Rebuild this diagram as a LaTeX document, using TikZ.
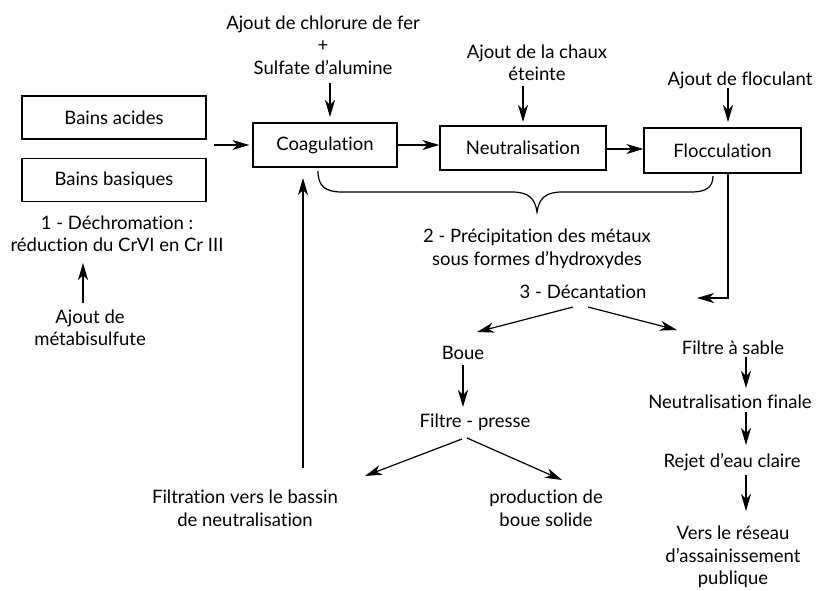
\documentclass[tikz,border=0pt]{standalone}
\usepackage{fontspec}
\setmainfont{Lato}[Ligatures=NoCommon]
\usetikzlibrary{arrows.meta}

\tikzset{
	etape/.style={draw, line width=1.2pt, minimum width=184pt, minimum height=43pt, inner sep=0pt},
	texte/.style={align=center, inner sep=0pt, font=\fontsize{18.5}{22.5}\selectfont},
	flux/.style={-{Stealth[length=17pt,width=10pt,inset=5pt]}, line width=1.2pt},
}

\begin{document}
\begin{tikzpicture}[x=1pt, y=-1pt, font=\fontsize{18.5}{22.5}\selectfont]
	\useasboundingbox (0,0) rectangle (816,590);

	% bacs et traitement
	\node [etape] (acides) at (114,117.5) {Bains acides};
	\node [etape] (basiques) at (114,180) {Bains basiques};
	\node [etape, minimum width=144pt, minimum height=44pt] (coag) at (325,145) {Coagulation};
	\node [etape, minimum width=166pt, minimum height=44pt] (neutre) at (523,148) {Neutralisation};
	\node [etape, minimum width=157pt, minimum height=45pt] (floc) at (722.5,150.5) {Flocculation};
	\coordinate (bains) at (214,145);

	% ajouts
	\node [texte] (chlorure) at (323,45) {Ajout de chlorure de fer\\+\\Sulfate d’alumine};
	\node [texte] (chaux) at (537,63) {Ajout de la chaux\\éteinte};
	\node [texte] (floculant) at (740,80) {Ajout de floculant};
	\node [texte] (dechrom) at (117,234) {1 - Déchromation :\\réduction du CrVI en Cr III};
	\node [texte] (metabi) at (90,328) {Ajout de\\métabisulfute};
	\node [texte] (precip) at (537,249) {2 - Précipitation des métaux\\sous formes d’hydroxydes};

	% boues et eau
	\node [texte] (decant) at (583,292) {3 - Décantation};
	\node [texte] (boue) at (463,353) {Boue};
	\node [texte] (presse) at (475,422) {Filtre - presse};
	\node [texte] (filtration) at (245,508) {Filtration vers le bassin\\de neutralisation};
	\node [texte] (solide) at (546,508) {production de\\boue solide};
	\node [texte] (sable) at (733,348) {Filtre à sable};
	\node [texte] (finale) at (730,402) {Neutralisation finale};
	\node [texte] (rejet) at (732,462) {Rejet d’eau claire};
	\node [texte] (reseau) at (733,557) {Vers le réseau\\d’assainissement\\publique};

	\draw [flux] (bains) -- ([xshift=-3pt]coag.west);
	\draw [flux] (coag.east) -- (coag.east -| neutre.west);
	\draw [flux] ([yshift=-1pt]neutre.east) -- ([yshift=-1pt]neutre.east -| floc.west);
	\draw [flux] ([shift={(7,38)}]chlorure.center) -- ([shift={(5,-28)}]coag.center);
	\draw [flux] ([shift={(-14,23)}]chaux.center) -- ([shift={(0,-26)}]neutre.center);
	\draw [flux] ([shift={(-12,8)}]floculant.center) -- ([shift={(5.5,-28.5)}]floc.center);
	\draw [flux] ([shift={(-7,-25)}]metabi.center) -- ([shift={(-34,29)}]dechrom.center);

	% accolade
	\draw [line width=1.2pt] (318,171) .. controls (318,186) and (325,192) .. (342,192) -- (512,192)
		.. controls (528,192) and (535,198) .. (537,212)
		.. controls (539,198) and (546,192) .. (562,192) -- (692,192)
		.. controls (706,192) and (713,187) .. (713,176);

	\draw [flux] ([xshift=5.5pt]floc.south) |- ([shift={(114,6)}]decant.center);
	\draw [flux] ([shift={(-10,15)}]decant.center) -- ([shift={(14,-21)}]boue.center);
	\draw [flux] ([shift={(5,15)}]decant.center) -- ([shift={(-56,-18)}]sable.center);
	\draw [flux] ([shift={(0,12)}]boue.center) -- ([shift={(-12,-15)}]presse.center);
	\draw [flux] ([shift={(-13,17)}]presse.center) -- ([shift={(120,-32)}]filtration.center);
	\draw [flux] ([shift={(-8,16)}]presse.center) -- ([shift={(16,-28)}]solide.center);
	\draw [flux] ([shift={(58,-40)}]filtration.center) -- ([shift={(-22,33)}]coag.center);
	\draw [flux] ([shift={(13,9)}]sable.center) -- ([shift={(16,-14)}]finale.center);
	\draw [flux] ([shift={(16,10)}]finale.center) -- ([shift={(14,-17)}]rejet.center);
	\draw [flux] ([shift={(14,13)}]rejet.center) -- ([shift={(13,-46)}]reseau.center);
\end{tikzpicture}
\end{document}
